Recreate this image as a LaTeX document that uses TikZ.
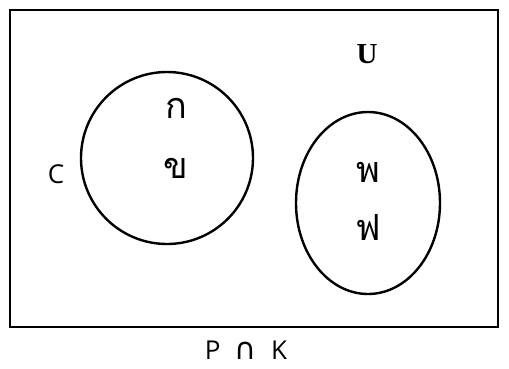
\documentclass[tikz,border=0pt]{standalone}
\usepackage{fontspec}
\usetikzlibrary{shapes.geometric}
\setmainfont{Liberation Serif}
\newfontfamily\thaifont[Script=Thai]{Loma}
\newfontfamily\dvs{DejaVu Sans}
\newfontfamily\osans{Open Sans}
\begin{document}
\begin{tikzpicture}[x=1pt,y=-1pt,
  setline/.style={draw, line width=2.4pt, inner sep=0pt},
  thai/.style={font=\thaifont\fontsize{36}{40}\selectfont, anchor=base, inner sep=0pt},
  sanslab/.style={font=\osans\fontsize{26}{30}\selectfont, anchor=base, inner sep=0pt},
  ulab/.style={font=\bfseries\fontsize{29}{34}\selectfont, anchor=base, inner sep=0pt}]
\useasboundingbox (0,0) rectangle (509,368);
\node[draw, line width=1.5pt, minimum width=488pt, minimum height=317pt, inner sep=0pt] (frame) at (254,168.5) {};
\node[setline, circle, minimum size=172pt] (A) at (167,158) {};
\node[setline, ellipse, minimum width=144pt, minimum height=182pt] (B) at (368,203) {};
\node[thai] (k) at (176,118) {ก};
\node[thai] (kh) at (176,178) {ข};
\node[thai] (ph) at (368,182) {พ};
\node[thai] (f) at (368,240) {ฟ};
\node[ulab] (U) at (367,63) {U};
\node[sanslab] (C) at (56,183) {C};
\node[sanslab] (PK) at (246,359) {P\hspace{0.55em}{\dvs\fontsize{30}{34}\selectfont ∩}\hspace{0.55em}K};
\end{tikzpicture}
\end{document}
